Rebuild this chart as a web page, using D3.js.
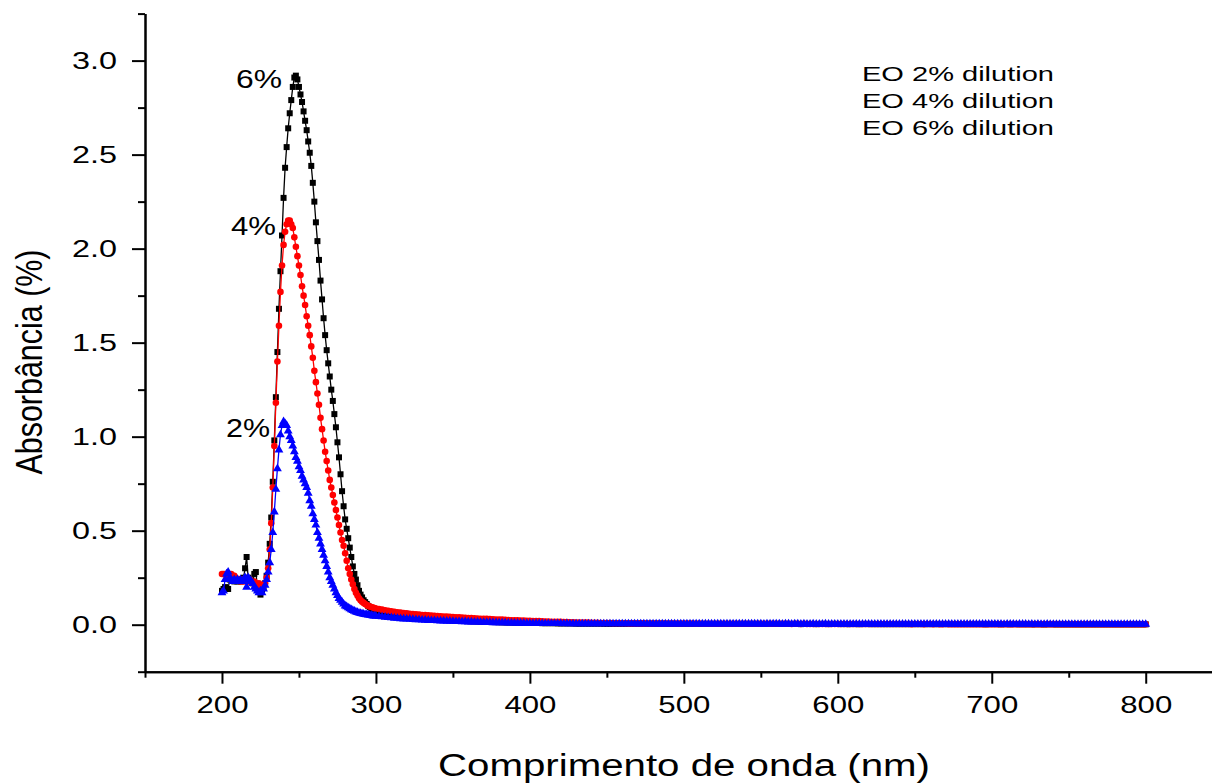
<!DOCTYPE html>
<html><head><meta charset="utf-8">
<script src="https://cdn.jsdelivr.net/npm/d3@7"></script>
<style>
body{margin:0;background:#fff}
svg{display:block}
text{font-family:"Liberation Sans", Arial, sans-serif;fill:#000}
</style>
</head><body>
<svg id="chart" width="1212" height="783"></svg>
<script>
// ---------- data ----------
const wlPeak = d3.range(200, 301, 1);   // 1 nm sampling 200-300
const wlTail = d3.range(302, 801, 2);   // 2 nm sampling 302-800

const abs6Peak = [
0.18,0.19,0.20,0.19,0.19,0.24,0.25,0.24,0.23,0.24,
0.23,0.24,0.23,0.24,0.25,0.30,0.36,0.25,0.24,0.23,
0.22,0.27,0.28,0.20,0.18,0.16,0.18,0.20,0.22,0.26,
0.33,0.43,0.57,0.76,0.98,1.21,1.45,1.68,1.88,2.07,
2.27,2.43,2.54,2.64,2.72,2.79,2.86,2.91,2.92,2.90,
2.86,2.82,2.78,2.73,2.68,2.63,2.57,2.51,2.44,2.35,
2.25,2.14,2.04,1.94,1.83,1.73,1.63,1.54,1.46,1.39,
1.32,1.25,1.19,1.12,1.05,0.97,0.89,0.80,0.71,0.63,
0.56,0.51,0.46,0.41,0.36,0.31,0.27,0.24,0.21,0.18,
0.16,0.145,0.13,0.12,0.11,0.10,0.093,0.087,0.082,0.078,
0.074];
const abs6Tail = [
0.069,0.065,0.061,0.058,0.055,0.052,0.050,0.047,0.045,0.043,
0.041,0.039,0.037,0.036,0.034,0.033,0.031,0.030,0.029,0.028,
0.027,0.026,0.025,0.024,0.023,0.022,0.021,0.021,0.020,0.019,
0.018,0.018,0.017,0.016,0.016,0.015,0.015,0.014,0.014,0.013,
0.013,0.012,0.012,0.012,0.011,0.011,0.010,0.010,0.010,0.009,
0.009,0.009,0.009,0.008,0.008,0.008,0.008,0.008,0.007,0.007,
0.007,0.007,0.007,0.007,0.006,0.006,0.006,0.006,0.006,0.006,
0.006,0.006,0.006,0.005,0.005,0.005,0.005,0.005,0.005,0.005,
0.005,0.005,0.005,0.005,0.005,0.005,0.005,0.005,0.005,0.005,
0.005,0.005,0.005,0.005,0.004,0.005,0.004,0.004,0.004,0.004,
0.004,0.004,0.004,0.004,0.004,0.004,0.004,0.004,0.004,0.004,
0.004,0.004,0.004,0.004,0.004,0.004,0.004,0.004,0.004,0.004,
0.004,0.004,0.004,0.004,0.004,0.004,0.004,0.004,0.004,0.004,
0.004,0.004,0.004,0.004,0.004,0.004,0.004,0.003,0.004,0.004,
0.004,0.004,0.003,0.004,0.004,0.004,0.003,0.004,0.004,0.004,
0.003,0.004,0.003,0.003,0.004,0.003,0.003,0.003,0.004,0.003,
0.003,0.003,0.003,0.003,0.003,0.003,0.003,0.003,0.003,0.003,
0.003,0.003,0.003,0.003,0.003,0.003,0.003,0.003,0.003,0.003,
0.003,0.003,0.003,0.003,0.003,0.003,0.003,0.003,0.003,0.003,
0.003,0.003,0.003,0.003,0.003,0.003,0.003,0.002,0.003,0.003,
0.003,0.003,0.002,0.003,0.003,0.002,0.003,0.003,0.002,0.003,
0.002,0.003,0.002,0.002,0.003,0.002,0.002,0.002,0.003,0.002,
0.002,0.002,0.002,0.002,0.002,0.002,0.002,0.002,0.002,0.002,
0.002,0.002,0.002,0.002,0.002,0.002,0.002,0.002,0.002,0.002,
0.002,0.002,0.002,0.002,0.002,0.002,0.002,0.002,0.002,0.002];

const abs4Peak = [
0.27,0.27,0.27,0.26,0.27,0.26,0.27,0.26,0.26,0.25,
0.24,0.24,0.23,0.24,0.23,0.24,0.23,0.23,0.24,0.23,
0.22,0.23,0.22,0.21,0.22,0.21,0.20,0.21,0.22,0.25,
0.30,0.40,0.54,0.73,0.95,1.18,1.40,1.59,1.77,1.91,
2.02,2.09,2.13,2.15,2.15,2.13,2.11,2.06,2.01,1.96,
1.91,1.86,1.80,1.75,1.70,1.64,1.59,1.54,1.48,1.42,
1.35,1.29,1.23,1.17,1.10,1.04,0.98,0.92,0.87,0.82,
0.77,0.73,0.69,0.65,0.61,0.57,0.53,0.49,0.45,0.42,
0.38,0.34,0.30,0.27,0.24,0.215,0.19,0.17,0.155,0.14,
0.13,0.122,0.116,0.11,0.105,0.10,0.097,0.094,0.091,0.088,
0.086];
const abs4Tail = [
0.083,0.080,0.077,0.074,0.071,0.069,0.066,0.064,0.062,0.060,
0.058,0.057,0.055,0.054,0.052,0.051,0.050,0.049,0.047,0.046,
0.045,0.044,0.043,0.042,0.041,0.040,0.039,0.038,0.037,0.036,
0.035,0.034,0.033,0.032,0.031,0.031,0.030,0.029,0.028,0.027,
0.027,0.026,0.025,0.024,0.024,0.023,0.022,0.022,0.021,0.021,
0.020,0.019,0.019,0.018,0.017,0.017,0.016,0.016,0.015,0.015,
0.014,0.014,0.013,0.013,0.012,0.012,0.012,0.011,0.011,0.010,
0.010,0.010,0.009,0.009,0.009,0.009,0.008,0.008,0.008,0.008,
0.008,0.007,0.007,0.007,0.007,0.007,0.007,0.006,0.006,0.006,
0.006,0.006,0.006,0.006,0.006,0.006,0.006,0.006,0.006,0.006,
0.006,0.006,0.006,0.005,0.006,0.005,0.005,0.005,0.005,0.005,
0.005,0.005,0.005,0.005,0.005,0.005,0.005,0.005,0.005,0.005,
0.005,0.005,0.005,0.005,0.005,0.005,0.005,0.005,0.005,0.005,
0.005,0.005,0.005,0.005,0.004,0.005,0.005,0.004,0.005,0.004,
0.004,0.004,0.004,0.004,0.004,0.004,0.004,0.004,0.004,0.004,
0.004,0.004,0.004,0.004,0.004,0.004,0.004,0.004,0.004,0.004,
0.004,0.004,0.004,0.004,0.004,0.004,0.004,0.004,0.004,0.004,
0.004,0.004,0.004,0.003,0.004,0.004,0.004,0.003,0.004,0.004,
0.003,0.004,0.003,0.003,0.004,0.003,0.003,0.003,0.003,0.003,
0.003,0.003,0.003,0.003,0.003,0.003,0.003,0.003,0.003,0.003,
0.003,0.003,0.003,0.003,0.003,0.003,0.003,0.003,0.003,0.003,
0.003,0.003,0.003,0.003,0.003,0.003,0.003,0.003,0.003,0.003,
0.003,0.003,0.003,0.002,0.003,0.003,0.003,0.002,0.003,0.003,
0.003,0.002,0.003,0.002,0.002,0.003,0.002,0.002,0.002,0.002,
0.002,0.002,0.002,0.002,0.002,0.002,0.002,0.002,0.002,0.002];

const abs2Peak = [
0.17,0.18,0.24,0.27,0.28,0.25,0.24,0.23,0.24,0.23,
0.24,0.23,0.24,0.23,0.24,0.25,0.20,0.25,0.24,0.23,
0.22,0.20,0.19,0.18,0.17,0.18,0.17,0.19,0.21,0.24,
0.28,0.33,0.40,0.49,0.60,0.72,0.83,0.93,1.01,1.06,
1.08,1.07,1.06,1.03,1.00,0.98,0.95,0.92,0.89,0.87,
0.84,0.82,0.79,0.77,0.75,0.73,0.70,0.66,0.63,0.59,
0.56,0.53,0.49,0.46,0.43,0.40,0.37,0.34,0.31,0.28,
0.25,0.23,0.21,0.19,0.17,0.155,0.14,0.13,0.12,0.11,
0.10,0.096,0.090,0.085,0.080,0.076,0.072,0.068,0.065,0.062,
0.060,0.058,0.056,0.054,0.053,0.052,0.050,0.049,0.047,0.046,
0.045];
const abs2Tail = [
0.044,0.042,0.040,0.038,0.037,0.035,0.034,0.032,0.031,0.030,
0.029,0.028,0.027,0.026,0.025,0.024,0.023,0.022,0.022,0.021,
0.020,0.020,0.019,0.019,0.018,0.017,0.017,0.016,0.016,0.015,
0.015,0.014,0.014,0.013,0.013,0.012,0.012,0.011,0.011,0.010,
0.010,0.010,0.009,0.009,0.009,0.008,0.008,0.008,0.007,0.007,
0.007,0.007,0.007,0.006,0.006,0.006,0.006,0.006,0.006,0.006,
0.005,0.006,0.005,0.005,0.005,0.005,0.005,0.005,0.005,0.005,
0.005,0.005,0.005,0.005,0.005,0.005,0.005,0.005,0.005,0.005,
0.005,0.005,0.005,0.005,0.004,0.005,0.005,0.004,0.005,0.004,
0.004,0.004,0.004,0.004,0.004,0.004,0.004,0.004,0.004,0.004,
0.004,0.004,0.004,0.004,0.004,0.004,0.004,0.004,0.004,0.004,
0.004,0.004,0.004,0.004,0.004,0.004,0.004,0.004,0.004,0.004,
0.004,0.004,0.004,0.004,0.004,0.003,0.004,0.004,0.004,0.004,
0.004,0.003,0.004,0.004,0.003,0.004,0.004,0.003,0.004,0.003,
0.003,0.004,0.003,0.003,0.003,0.004,0.003,0.003,0.003,0.003,
0.003,0.003,0.003,0.003,0.003,0.003,0.003,0.003,0.003,0.003,
0.003,0.003,0.003,0.003,0.003,0.003,0.003,0.003,0.003,0.003,
0.003,0.003,0.003,0.003,0.003,0.003,0.003,0.003,0.003,0.003,
0.003,0.003,0.003,0.003,0.003,0.003,0.003,0.003,0.003,0.003,
0.003,0.003,0.003,0.003,0.003,0.003,0.003,0.003,0.003,0.003,
0.003,0.003,0.003,0.002,0.003,0.003,0.003,0.002,0.003,0.003,
0.003,0.002,0.003,0.002,0.003,0.002,0.002,0.003,0.002,0.002,
0.002,0.002,0.002,0.002,0.002,0.002,0.002,0.002,0.002,0.002,
0.002,0.002,0.002,0.002,0.002,0.002,0.002,0.002,0.002,0.002,
0.002,0.002,0.002,0.002,0.002,0.002,0.002,0.002,0.002,0.002];

const legendNames = ["EO 2% dilution", "EO 4% dilution", "EO 6% dilution"];
const peakLabels = ["2%", "4%", "6%"];
const xMajorTicks = [200, 300, 400, 500, 600, 700, 800];
const xMinorTicks = [150, 250, 350, 450, 550, 650, 750];
const yMajorTicks = [0.0, 0.5, 1.0, 1.5, 2.0, 2.5, 3.0];
const yMinorTicks = [-0.25, 0.25, 0.75, 1.25, 1.75, 2.25, 2.75, 3.25];
const xTitle = "Comprimento de onda (nm)";
const yTitle = "Absorbância (%)";

// ---------- drawing ----------
const svg = d3.select("#chart");
const x = d3.scaleLinear().domain([150, 850]).range([145, 1222.7]);
const y = d3.scaleLinear().domain([-0.25, 3.25]).range([671.7, 13.6]);
const AX = 145, AY = 671.7;

function build(peak, tail) {
  return wlPeak.map((w, i) => ({w, v: peak[i]}))
    .concat(wlTail.map((w, i) => ({w, v: tail[i]})))
    .filter(d => d.v !== undefined);
}
const series = [
  {name: legendNames[2], label: peakLabels[2], data: build(abs6Peak, abs6Tail), color: "#000000", sym: d3.symbolSquare, size: 36},
  {name: legendNames[1], label: peakLabels[1], data: build(abs4Peak, abs4Tail), color: "#ff0000", sym: d3.symbolCircle, size: 34},
  {name: legendNames[0], label: peakLabels[0], data: build(abs2Peak, abs2Tail), color: "#0000ff", sym: d3.symbolTriangle, size: 34}
];

const line = d3.line().x(d => x(d.w)).y(d => y(d.v));
series.forEach(s => {
  const g = svg.append("g");
  g.append("path").datum(s.data).attr("d", line)
    .attr("fill", "none").attr("stroke", s.color).attr("stroke-width", 1.3);
  const sym = d3.symbol().type(s.sym).size(s.size);
  g.selectAll("path.m").data(s.data).join("path").attr("class", "m")
    .attr("d", sym)
    .attr("transform", d => `translate(${x(d.w)},${y(d.v)})`)
    .attr("fill", s.color);
});

// axes
function styleAxis(g) {
  g.selectAll("path.domain").attr("stroke", "#000").attr("stroke-width", 2);
  g.selectAll(".tick line").attr("stroke", "#000").attr("stroke-width", 2);
}
const gxMinor = svg.append("g").attr("transform", `translate(0,${AY})`)
  .call(d3.axisBottom(x).tickValues(xMinorTicks).tickSize(6).tickSizeOuter(0).tickFormat(""));
styleAxis(gxMinor);
const gx = svg.append("g").attr("transform", `translate(0,${AY})`)
  .call(d3.axisBottom(x).tickValues(xMajorTicks).tickSize(12).tickSizeOuter(0).tickPadding(12).tickFormat(d3.format("d")));
styleAxis(gx);
gx.selectAll(".tick text").attr("font-size", 24).attr("font-family", "Liberation Sans, Arial, sans-serif")
  .attr("textLength", 52).attr("lengthAdjust", "spacingAndGlyphs").attr("fill", "#000");

const gyMinor = svg.append("g").attr("transform", `translate(${AX},0)`)
  .call(d3.axisLeft(y).tickValues(yMinorTicks).tickSize(7).tickSizeOuter(0).tickFormat(""));
styleAxis(gyMinor);
const gy = svg.append("g").attr("transform", `translate(${AX},0)`)
  .call(d3.axisLeft(y).tickValues(yMajorTicks).tickSize(13).tickSizeOuter(0).tickPadding(15).tickFormat(d3.format(".1f")));
styleAxis(gy);
gy.selectAll(".tick text").attr("font-size", 24).attr("font-family", "Liberation Sans, Arial, sans-serif")
  .attr("textLength", 45).attr("lengthAdjust", "spacingAndGlyphs").attr("fill", "#000");

// axis titles
svg.append("text").text(xTitle)
  .attr("x", 438).attr("y", 776).attr("font-size", 31)
  .attr("textLength", 492).attr("lengthAdjust", "spacingAndGlyphs");
svg.append("text").text(yTitle)
  .attr("transform", "translate(42,362) rotate(-90)")
  .attr("text-anchor", "middle").attr("font-size", 36)
  .attr("textLength", 225).attr("lengthAdjust", "spacingAndGlyphs");

// peak labels
const peakLabelPos = [
  {t: peakLabels[2], x: 236, y: 88, len: 46},
  {t: peakLabels[1], x: 231, y: 235, len: 45},
  {t: peakLabels[0], x: 226, y: 437, len: 44}
];
svg.selectAll("text.pl").data(peakLabelPos).join("text").attr("class", "pl")
  .text(d => d.t).attr("x", d => d.x).attr("y", d => d.y)
  .attr("font-size", 25).attr("textLength", d => d.len).attr("lengthAdjust", "spacingAndGlyphs");

// legend (text only)
svg.selectAll("text.lg").data(legendNames).join("text").attr("class", "lg")
  .text(d => d).attr("x", 862).attr("y", (d, i) => 81 + i * 27)
  .attr("font-size", 21).attr("textLength", 192).attr("lengthAdjust", "spacingAndGlyphs");
</script>
</body></html>
